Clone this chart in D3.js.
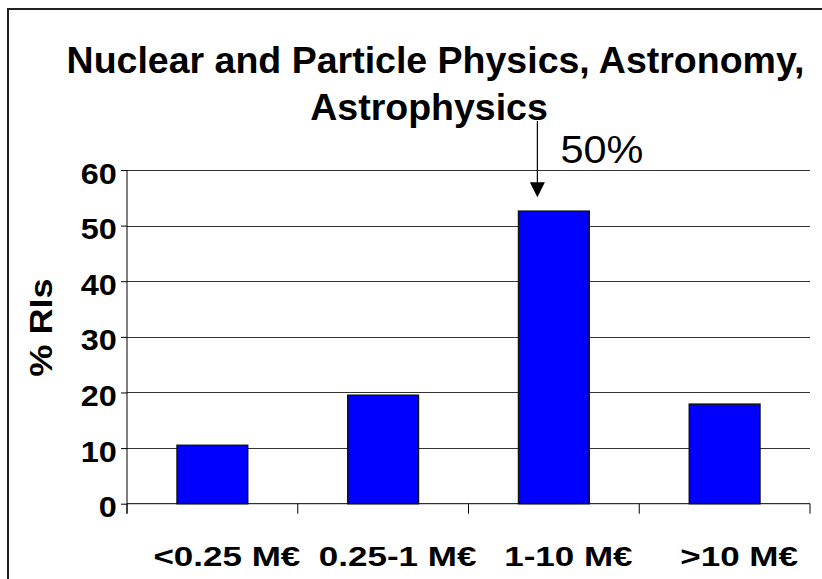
<!DOCTYPE html>
<html>
<head>
<meta charset="utf-8">
<script src="https://cdn.jsdelivr.net/npm/d3@7"></script>
<style>
  body { margin: 0; background: #fff; }
  svg { display: block; font-family: "Liberation Sans", Arial, sans-serif; }
</style>
</head>
<body>
<div id="chart"></div>
<script>
const categories = ['<0.25 M€', '0.25-1 M€', '1-10 M€', '>10 M€'];
const values = [10.5, 19.5, 52.6, 17.9];
const yTicks = [0, 10, 20, 30, 40, 50, 60];
const titleLines = ['Nuclear and Particle Physics, Astronomy,', 'Astrophysics'];
const yLabel = '% RIs';
const note = '50%';
const noteIndex = 2;

const width = 822;
const height = 579;
const margin = { top: 170, right: 12, bottom: 75.3, left: 127 };

const svg = d3.select('#chart')
  .append('svg')
  .attr('width', width)
  .attr('height', height);

const xScale = d3.scaleBand()
  .domain(categories)
  .range([margin.left, width - margin.right])
  .padding(0);

const yScale = d3.scaleLinear()
  .domain([0, 60])
  .range([height - margin.bottom, margin.top]);

const barWidth = xScale.bandwidth() * 0.414;

// outer frame (top and left only)
svg.append('path')
  .attr('d', `M8,${height} V9 H${width}`)
  .attr('fill', 'none')
  .attr('stroke', '#222')
  .attr('stroke-width', 2);

// gridlines
svg.append('g')
  .selectAll('line')
  .data(yTicks.filter(d => d > 0))
  .enter()
  .append('line')
  .attr('x1', margin.left)
  .attr('x2', width - margin.right)
  .attr('y1', d => Math.round(yScale(d)) + 0.5)
  .attr('y2', d => Math.round(yScale(d)) + 0.5)
  .attr('stroke', '#333')
  .attr('stroke-width', 1);

// bars
svg.append('g')
  .selectAll('rect')
  .data(values)
  .enter()
  .append('rect')
  .attr('x', (d, i) => xScale(categories[i]) + (xScale.bandwidth() - barWidth) / 2)
  .attr('y', d => yScale(d))
  .attr('width', barWidth)
  .attr('height', d => yScale(0) - yScale(d))
  .attr('fill', '#0000ff')
  .attr('stroke', '#111')
  .attr('stroke-width', 1.5);

// y axis (labels are a bit wider than plain Arial bold in the original)
const tickStretch = 1.08;
const yAxis = svg.append('g')
  .attr('transform', `translate(${margin.left},0)`)
  .call(d3.axisLeft(yScale).tickValues(yTicks).tickSize(6).tickFormat(d3.format('d')));
yAxis.select('.domain').attr('stroke', '#000').attr('d', `M0,${yScale(60)}V${yScale(0) + 10}`);
yAxis.selectAll('.tick line').attr('stroke', '#000');
yAxis.selectAll('.tick text')
  .attr('font-size', 30)
  .attr('font-weight', 'bold')
  .attr('fill', '#000')
  .attr('x', -10.3 / tickStretch)
  .attr('dy', 13)
  .attr('transform', `scale(${tickStretch},1)`);

// x axis
const xAxis = svg.append('g')
  .attr('transform', `translate(0,${yScale(0)})`)
  .call(d3.axisBottom(xScale).tickSize(0).tickFormat(''));
xAxis.select('.domain').attr('stroke', '#000').attr('d', `M${margin.left},0H${width - margin.right}`);
svg.append('g')
  .selectAll('line')
  .data(categories.concat(['end']))
  .enter()
  .append('line')
  .attr('x1', (d, i) => i < categories.length ? xScale(d) : xScale.range()[1])
  .attr('x2', (d, i) => i < categories.length ? xScale(d) : xScale.range()[1])
  .attr('y1', yScale(0))
  .attr('y2', yScale(0) + 10)
  .attr('stroke', '#000');

const labelStretch = 1.25;
svg.append('g')
  .selectAll('text')
  .data(categories)
  .enter()
  .append('text')
  .attr('transform', d => `translate(${xScale(d) + xScale.bandwidth() / 2 + 14.5},565.7) scale(${labelStretch},1)`)
  .attr('text-anchor', 'middle')
  .attr('font-size', 28)
  .attr('font-weight', 'bold')
  .text(d => d);

// y label
svg.append('text')
  .attr('transform', 'translate(51.5,327.5) rotate(-90) scale(1.13,1)')
  .attr('text-anchor', 'middle')
  .attr('font-size', 32)
  .attr('font-weight', 'bold')
  .text(yLabel);

// title
svg.append('text')
  .attr('x', 435.5)
  .attr('y', 72.7)
  .attr('text-anchor', 'middle')
  .attr('font-size', 37.5)
  .attr('font-weight', 'bold')
  .text(titleLines[0]);
svg.append('text')
  .attr('x', 429)
  .attr('y', 120)
  .attr('text-anchor', 'middle')
  .attr('font-size', 37.5)
  .attr('font-weight', 'bold')
  .text(titleLines[1]);

// annotation arrow
const ax = xScale(categories[noteIndex]) + xScale.bandwidth() / 2 - 16.5;
const tipY = yScale(values[noteIndex]) - 14;
svg.append('line')
  .attr('x1', ax).attr('x2', ax)
  .attr('y1', 121).attr('y2', tipY - 14)
  .attr('stroke', '#000')
  .attr('stroke-width', 1.2);
svg.append('path')
  .attr('d', `M${ax - 7.5},${tipY - 15}L${ax + 7.5},${tipY - 15}L${ax},${tipY}Z`)
  .attr('fill', '#000');
svg.append('text')
  .attr('transform', `translate(${ax + 23},163) scale(1.09,1)`)
  .attr('font-size', 38)
  .text(note);
</script>
</body>
</html>
